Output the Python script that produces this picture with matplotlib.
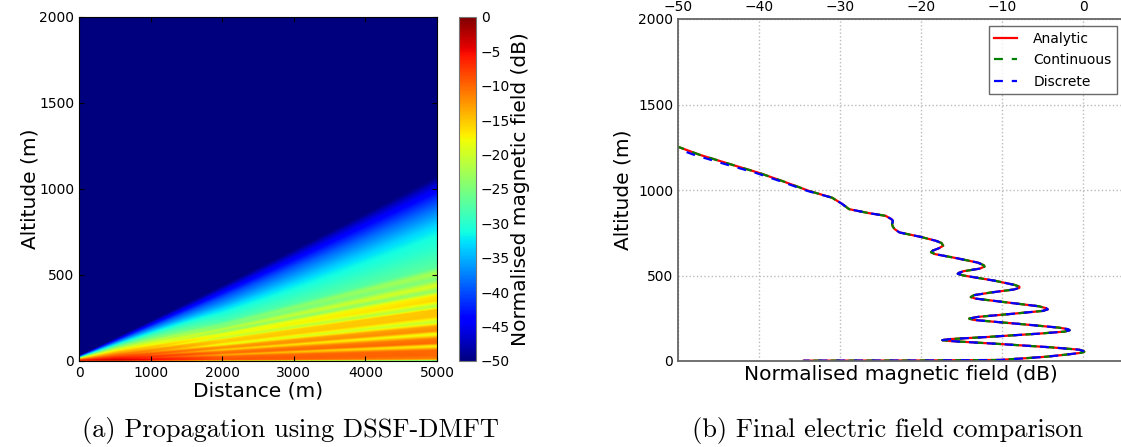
import numpy as np
import matplotlib
matplotlib.use("Agg")
import matplotlib.pyplot as plt

# ---- left panel: field level (dB) along rays from the source ----
# a ray is named by the altitude it reaches at 5000 m
ray_alt = [0, 8, 30, 60, 83, 100, 125, 151, 170, 195, 220, 250, 290, 308, 340,
           370, 395, 425, 460, 495, 529, 570, 645, 700, 762, 860, 930, 990, 1040, 1100]
ranges = [500, 2000, 5000]
level_500 = [-10, -3, -3, -4, -5, -5, -6, -7, -7, -8, -9, -10, -11, -12, -13,
             -14, -15, -16, -18, -19, -21, -23, -27, -30, -34, -40, -45, -49, -52, -60]
level_2000 = [-20, -9, -9, -10, -14, -10, -11, -16, -12, -13, -19, -15, -16, -21, -18,
              -19, -24, -21, -25, -25, -28, -29, -31, -33, -36, -40, -44, -48, -52, -60]
level_5000 = [-28, -12, -10, -10, -18, -10, -11, -19, -12, -13, -21, -15, -15, -22, -16,
              -17, -24, -19, -25, -22, -27, -28, -30, -31, -33, -38, -42, -46, -50, -60]

# ---- right panel: final field vs altitude ----
alt_curve = [1258, 1207, 1150, 1100, 1050, 994, 955, 920, 888, 865, 849, 830, 820, 800,
             785, 772, 752, 725, 703, 690, 674, 660, 645, 636, 625, 600, 575, 560, 552,
             540, 525, 515, 510, 500, 470, 445, 435, 428, 418, 400, 385, 374, 365, 340,
             320, 309, 302, 293, 275, 258, 248, 240, 215, 195, 186, 180, 172, 160, 140,
             128, 122, 117, 100, 80, 66, 58, 54, 48, 38, 25, 15, 6, 3, 2]
analytic_db = [-50.3, -47.4, -43.5, -40.0, -37.0, -33.8, -31.0, -29.8, -28.9, -26.5, -24.4,
               -23.7, -23.5, -23.6, -23.5, -23.3, -22.7, -20.0, -18.2, -17.5, -17.3, -17.8,
               -18.6, -18.8, -18.3, -15.5, -13.0, -12.3, -12.2, -12.8, -14.8, -15.4, -15.5,
               -14.8, -11.0, -8.5, -7.9, -7.9, -8.6, -11.5, -13.5, -13.9, -13.3, -9.0, -5.5,
               -4.6, -4.4, -5.0, -9.0, -13.0, -14.1, -13.5, -7.5, -3.0, -1.9, -1.7, -2.3,
               -5.5, -12.0, -16.5, -17.4, -16.5, -10.5, -4.0, -0.5, 0.0, 0.1, -0.3, -2.0,
               -4.6, -7.5, -10.4, -20.0, -34.5]
discrete_db = [-51.0, -48.1, -44.1, -40.4, -37.3, -34.0] + analytic_db[6:]

fig = plt.figure(figsize=(11.21, 4.47), dpi=100)

# left: propagation map
ax1 = fig.add_axes([79 / 1121, 86 / 447, 358 / 1121, 344 / 447])
x = np.linspace(0, 5000, 500)
z = np.linspace(0, 2000, 800)
X, Z = np.meshgrid(x, z)
ray = Z * 5000 / (X + 150)
lv = [np.interp(ray, ray_alt, l) for l in (level_500, level_2000, level_5000)]
f1 = np.clip((X - ranges[0]) / (ranges[1] - ranges[0]), 0, 1)
f2 = np.clip((X - ranges[1]) / (ranges[2] - ranges[1]), 0, 1)
field = np.where(X < ranges[1], lv[0] * (1 - f1) + lv[1] * f1, lv[1] * (1 - f2) + lv[2] * f2)
im = ax1.imshow(field, origin="lower", extent=[0, 5000, 0, 2000], aspect="auto",
                cmap="jet", vmin=-50, vmax=0, interpolation="bilinear")
ax1.set_xlim(0, 5000)
ax1.set_ylim(0, 2000)
ax1.set_xticks([0, 1000, 2000, 3000, 4000, 5000])
ax1.set_yticks([0, 500, 1000, 1500, 2000])
ax1.tick_params(direction="in", top=True, right=True, labelsize=10)
ax1.set_xlabel("Distance (m)", fontsize=14.5, labelpad=1)
ax1.set_ylabel("Altitude (m)", fontsize=14.5, labelpad=0)

cax = fig.add_axes([459 / 1121, 86 / 447, 17 / 1121, 344 / 447])
cb = fig.colorbar(im, cax=cax, ticks=np.arange(-50, 1, 5))
cb.ax.tick_params(labelsize=10, direction="in", length=0)
cb.set_label("Normalised magnetic field (dB)", fontsize=14.5, labelpad=1)
cb.outline.set_edgecolor("#777777")

# right: final field comparison
ax2 = fig.add_axes([678 / 1121, 86 / 447, 446 / 1121, 342 / 447])
ax2.plot(analytic_db, alt_curve, color="red", lw=1.6, label="Analytic")
ax2.plot(analytic_db, alt_curve, color="green", lw=1.6, ls="--", dashes=(4, 4), label="Continuous")
ax2.plot(discrete_db, alt_curve, color="blue", lw=1.6, ls="--", dashes=(4, 4), label="Discrete")
ax2.set_xlim(-50, 5)
ax2.set_ylim(0, 2000)
ax2.set_xticks([-50, -40, -30, -20, -10, 0])
ax2.set_yticks([0, 500, 1000, 1500, 2000])
ax2.xaxis.tick_top()
ax2.tick_params(direction="in", labelsize=10, length=0)
ax2.grid(True, color="#bbbbbb", ls=":", lw=1)
for s in ax2.spines.values():
    s.set_color("#666666")
    s.set_linewidth(1.3)
ax2.set_xlabel("Normalised magnetic field (dB)", fontsize=14.5, labelpad=3)
ax2.set_ylabel("Altitude (m)", fontsize=14.5, labelpad=4)
leg = ax2.legend(loc="upper right", fontsize=10, handlelength=1.6, handletextpad=1.2,
                 labelspacing=0.55, fancybox=False, borderaxespad=0.5)
leg.get_frame().set_edgecolor("#444444")

# captions
fig.text(290 / 1121, 1 - 430 / 447, "(a) Propagation using DSSF-DMFT",
         family="cmr10", fontsize=19, ha="center", va="center")
fig.text(888 / 1121, 1 - 430 / 447, "(b) Final electric field comparison",
         family="cmr10", fontsize=19, ha="center", va="center")

fig.savefig("out.png", dpi=100)
